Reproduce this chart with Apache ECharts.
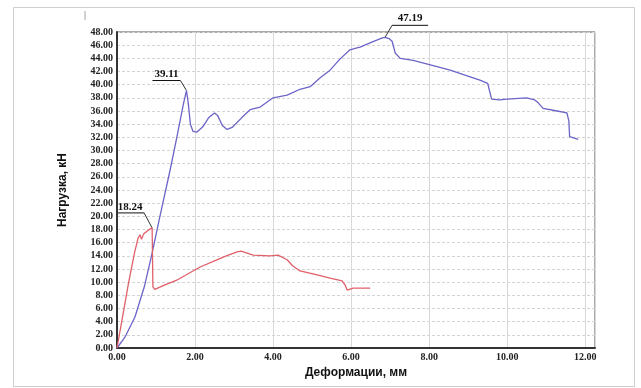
<!DOCTYPE html>
<html><head><meta charset="utf-8">
<script src="https://cdn.jsdelivr.net/npm/echarts@6/dist/echarts.min.js"></script>
<style>html,body{margin:0;padding:0;background:#fff}#c{width:641px;height:388px}</style>
</head><body><div id="c"></div>
<script>
const xTickValues = [0, 2, 4, 6, 8, 10, 12];
const yTickValues = [0,2,4,6,8,10,12,14,16,18,20,22,24,26,28,30,32,34,36,38,40,42,44,46,48];
const blueSeries = [[0,0],[0.2,1.6],[0.46,4.7],[0.7,9.3],[0.9,14.4],[1.1,20],[1.36,27],[1.55,32.5],[1.7,37],[1.78,39.11],[1.83,37],[1.88,34],[1.95,32.9],[2.05,32.8],[2.2,33.6],[2.35,35],[2.5,35.7],[2.58,35.3],[2.7,33.8],[2.82,33.2],[2.95,33.5],[3.2,35],[3.41,36.2],[3.67,36.6],[4.0,38.0],[4.36,38.4],[4.69,39.3],[4.95,39.7],[5.2,41],[5.46,42.2],[5.7,43.8],[5.97,45.3],[6.1,45.5],[6.23,45.7],[6.5,46.4],[6.8,47.1],[6.87,47.19],[6.97,47.0],[7.05,46.6],[7.1,45.5],[7.13,44.8],[7.26,44.0],[7.59,43.7],[8.03,43.0],[8.54,42.2],[9.05,41.2],[9.3,40.7],[9.5,40.2],[9.55,39],[9.6,37.8],[9.8,37.7],[10.0,37.8],[10.5,38.0],[10.7,37.7],[10.8,37.2],[10.92,36.4],[11.28,36.0],[11.53,35.7],[11.58,34.5],[11.6,32.1],[11.82,31.7]];
const redSeries = [[0,0],[0.15,5],[0.3,10],[0.45,14.5],[0.54,16.7],[0.59,17.2],[0.63,16.5],[0.68,17.3],[0.72,17.5],[0.8,17.9],[0.9,18.24],[0.91,14],[0.92,9.3],[0.97,8.9],[1.2,9.5],[1.53,10.3],[1.8,11.2],[2.13,12.3],[2.56,13.4],[2.8,14.0],[3.08,14.6],[3.18,14.7],[3.49,14.1],[3.92,14.0],[4.13,14.1],[4.36,13.4],[4.5,12.5],[4.69,11.7],[5.13,11.1],[5.46,10.6],[5.77,10.2],[5.85,9.5],[5.9,8.8],[6.05,9.1],[6.49,9.1]];
const peakPoints = [[1.78, 39.11], [6.87, 47.19], [0.9, 18.24]];
const peakLabels = ['39.11', '47.19', '18.24'];
const xName = 'Деформации, мм';
const yName = 'Нагрузка, кН';

const chart = echarts.init(document.getElementById('c'));
const tickFont = {fontFamily: 'Liberation Serif', fontWeight: 'bold', fontSize: 10, color: '#222'};
chart.setOption({
  animation: false,
  backgroundColor: '#fff',
  grid: {left: 117, right: 46, top: 32, bottom: 40, show: true, borderColor: '#555', borderWidth: 1},
  xAxis: {
    type: 'value', min: 0, max: 12.25, interval: 2,
    name: xName, nameLocation: 'middle', nameGap: 11,
    nameTextStyle: {fontFamily: 'Liberation Sans', fontWeight: 'bold', fontSize: 12, color: '#111'},
    axisLine: {lineStyle: {color: '#333', width: 2}},
    axisTick: {show: false},
    axisLabel: Object.assign({margin: 4, formatter: v => xTickValues.includes(v) ? v.toFixed(2) : ''}, tickFont),
    splitLine: {show: true, lineStyle: {color: '#d8d8d8', width: 1}}
  },
  yAxis: {
    type: 'value', min: 0, max: 48, interval: 2,
    name: yName, nameLocation: 'middle', nameGap: 48, nameRotate: 90,
    nameTextStyle: {fontFamily: 'Liberation Sans', fontWeight: 'bold', fontSize: 12, color: '#111'},
    axisLine: {show: true, lineStyle: {color: '#333', width: 2}},
    axisTick: {show: false},
    axisLabel: Object.assign({margin: 4, formatter: v => yTickValues.includes(v) ? v.toFixed(2) : ''}, tickFont),
    splitLine: {show: true, lineStyle: {color: '#d4d4d4', width: 1, type: [3, 2]}}
  },
  series: [
    {type: 'line', data: blueSeries, showSymbol: false, lineStyle: {color: '#6c64c8', width: 1.3}, z: 3},
    {type: 'line', data: redSeries, showSymbol: false, lineStyle: {color: '#e0606a', width: 1.3}, z: 4}
  ]
});

// annotation callouts placed relative to peak points via the chart's own scale
const offsets = [
  {ul: [-34, -10], ur: [-6, -10], t: [-20, -16]},
  {ul: [7, -12], ur: [43, -12], t: [25, -19]},
  {ul: [-36, -15], ur: [-8, -15], t: [-22, -21]}
];
const graphics = [
  {type: 'rect', shape: {x: 13.5, y: 7.5, width: 621, height: 379}, style: {fill: 'none', stroke: '#cfcfcf', lineWidth: 1}, silent: true},
  {type: 'text', x: 84, y: 10, style: {text: '|', font: '10px Liberation Serif', fill: '#555'}}
];
peakPoints.forEach((p, i) => {
  const px = chart.convertToPixel({gridIndex: 0}, p);
  const o = offsets[i];
  const ul = [px[0] + o.ul[0], px[1] + o.ul[1]];
  const ur = [px[0] + o.ur[0], px[1] + o.ur[1]];
  const lead = i === 1 ? ul : ur;
  graphics.push({type: 'polyline', shape: {points: [ul, ur]}, style: {stroke: '#111', lineWidth: 1}});
  graphics.push({type: 'polyline', shape: {points: [lead, px]}, style: {stroke: '#333', lineWidth: 1}});
  graphics.push({type: 'text', x: px[0] + o.t[0], y: px[1] + o.t[1], style: {text: peakLabels[i], font: 'bold 11px Liberation Serif', fill: '#111', textAlign: 'center', textVerticalAlign: 'middle'}});
});
chart.setOption({graphic: graphics});
</script>
</body></html>
